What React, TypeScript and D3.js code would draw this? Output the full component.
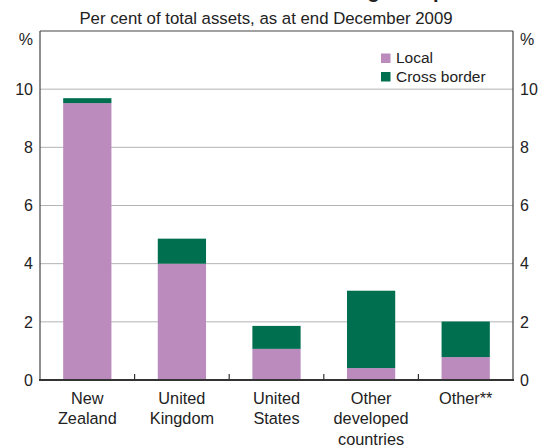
import React from "react";
import * as d3 from "d3";

const categories = [
  ["New", "Zealand"],
  ["United", "Kingdom"],
  ["United", "States"],
  ["Other", "developed", "countries"],
  ["Other**"],
];
const localValues = [9.52, 4.0, 1.07, 0.41, 0.79];
const crossBorderValues = [0.17, 0.86, 0.79, 2.66, 1.22];
const yTicks = [0, 2, 4, 6, 8, 10];
const seriesNames = ["Local", "Cross border"];
const colors = ["#bb8bbe", "#006f4f"];

const W = 548, H = 448;
const L = 40, R = 513, T = 31, B = 380;
const FONT = "Arial, 'Liberation Sans', sans-serif";

export default function App() {
  const keys = categories.map((c) => c.join(" "));
  const x = d3.scaleBand().domain(keys).range([L, R]).paddingInner(0.49).paddingOuter(0.245);
  const y = d3.scaleLinear().domain([0, 12]).range([B, T]);
  const step = x.step();
  const rows = keys.map((k, i) => ({ k, local: localValues[i], cross: crossBorderValues[i] }));
  const stack = d3.stack<any>().keys(["local", "cross"])(rows);

  return (
    <svg width={W} height={H} style={{ position: "absolute", left: 0, top: 0, background: "#fff" }}>
      <text x={292} y={-2} textAnchor="middle" fontFamily={FONT} fontWeight="bold" fontSize={20} fill="#222">
        Australian-owned Banking Groups
      </text>
      <text x={266} y={24} textAnchor="middle" fontFamily={FONT} fontSize={16.8} fill="#222">
        Per cent of total assets, as at end December 2009
      </text>
      {yTicks.filter((t) => t > 0).map((t) => (
        <line key={t} x1={L} x2={R} y1={y(t)} y2={y(t)} stroke="#b4b4b8" strokeWidth={1} />
      ))}
      {stack.map((s, si) =>
        s.map((d, i) => (
          <rect
            key={si + "-" + i}
            x={x(keys[i])}
            width={x.bandwidth()}
            y={y(d[1])}
            height={y(d[0]) - y(d[1])}
            fill={colors[si]}
          />
        ))
      )}
      <line x1={L} x2={R} y1={T} y2={T} stroke="#444" strokeWidth={1.2} />
      <line x1={L} x2={L} y1={T} y2={B} stroke="#444" strokeWidth={1.2} />
      <line x1={R} x2={R} y1={T} y2={B} stroke="#444" strokeWidth={1.2} />
      <line x1={L - 1} x2={R + 1} y1={B} y2={B} stroke="#333" strokeWidth={2} />
      {keys.slice(1).map((k, i) => (
        <line key={k} x1={L + step * (i + 1)} x2={L + step * (i + 1)} y1={B - 6} y2={B} stroke="#333" strokeWidth={1.2} />
      ))}
      {yTicks.map((t) => (
        <g key={t} fontFamily={FONT} fontSize={16} fill="#222">
          <text x={33} y={y(t) + 5.8} textAnchor="end">{t}</text>
          <text x={520} y={y(t) + 5.8} textAnchor="start">{t}</text>
        </g>
      ))}
      <text x={33} y={45} textAnchor="end" fontFamily={FONT} fontSize={16} fill="#222">%</text>
      <text x={520} y={45} textAnchor="start" fontFamily={FONT} fontSize={16} fill="#222">%</text>
      {categories.map((lines, i) => (
        <text key={i} textAnchor="middle" fontFamily={FONT} fontSize={16.3} fill="#222">
          {lines.map((ln, j) => (
            <tspan key={j} x={(x(keys[i]) as number) + x.bandwidth() / 2} y={403.5 + j * 20.5}>{ln}</tspan>
          ))}
        </text>
      ))}
      {seriesNames.map((n, i) => (
        <g key={n}>
          <rect x={381} y={53.5 + i * 18.5} width={9.5} height={9.5} fill={colors[i]} />
          <text x={396} y={63.3 + i * 18.5} fontFamily={FONT} fontSize={15.5} fill="#222">{n}</text>
        </g>
      ))}
    </svg>
  );
}
